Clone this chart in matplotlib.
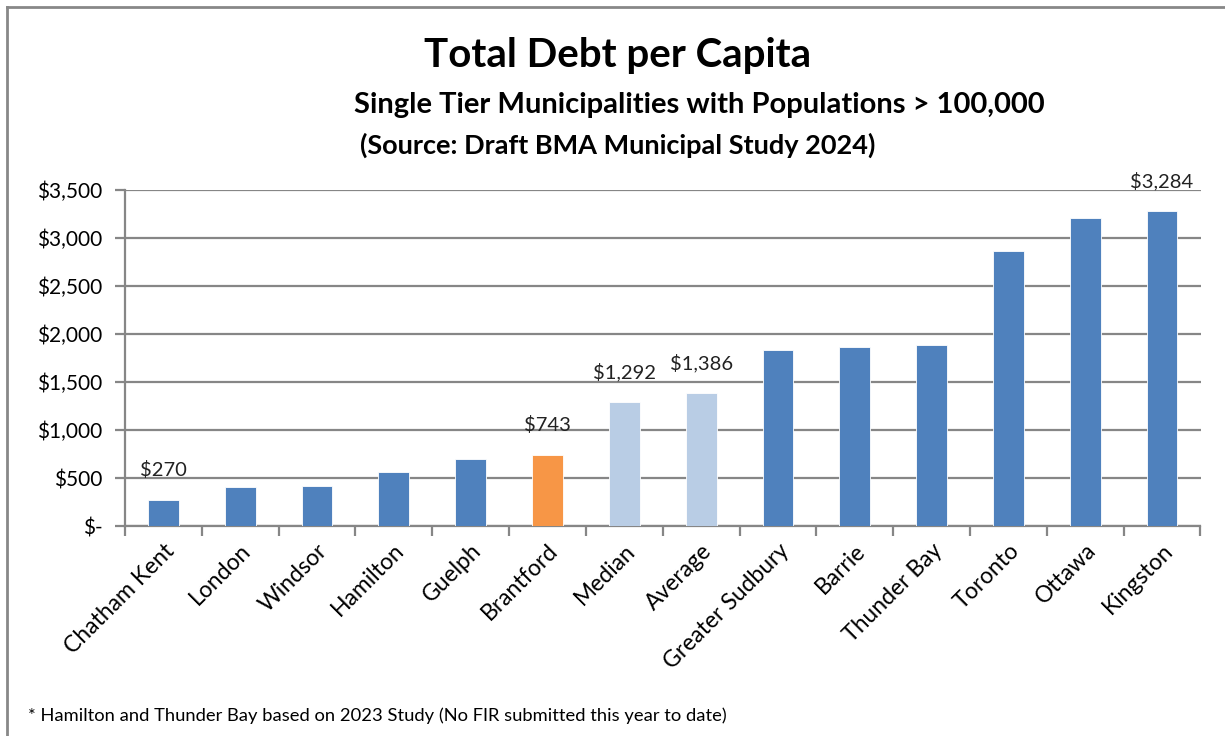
import numpy as np
import matplotlib.pyplot as plt
from matplotlib.lines import Line2D
from matplotlib.ticker import FuncFormatter

plt.rcParams['font.family'] = ['Lato', 'DejaVu Sans']

# Debt per capita by municipality, sorted low to high
municipalities = ['Chatham Kent', 'London', 'Windsor', 'Hamilton', 'Guelph',
                  'Brantford', 'Median', 'Average', 'Greater Sudbury', 'Barrie',
                  'Thunder Bay', 'Toronto', 'Ottawa', 'Kingston']
debt_per_capita = [270, 407, 421, 567, 703, 743, 1292, 1386, 1832, 1860,
                   1884, 2868, 3212, 3284]
labelled = ['Chatham Kent', 'Brantford', 'Median', 'Average', 'Kingston']

BLUE = '#4F81BD'
ORANGE = '#F79646'
LIGHT_BLUE = '#B9CDE5'
GRID = '#868686'


def bar_colour(name):
    if name == 'Brantford':
        return ORANGE
    if name in ('Median', 'Average'):
        return LIGHT_BLUE
    return BLUE


def money(v, pos=None):
    return '$-' if v == 0 else f'${v:,.0f}'


fig = plt.figure(figsize=(12.25, 7.36), dpi=100)
ax = fig.add_axes([0.102, 0.2853, 0.878, 0.4565])

x = np.arange(len(municipalities))
colours = [bar_colour(m) for m in municipalities]
bars = ax.bar(x, debt_per_capita, width=0.4, color=colours,
              edgecolor='white', linewidth=0.6, zorder=3)

for rect, name, val in zip(bars, municipalities, debt_per_capita):
    if name in labelled:
        ax.annotate(money(val), (rect.get_x() + rect.get_width() / 2, val),
                    xytext=(0, 15), textcoords='offset points',
                    ha='center', va='bottom', fontsize=14.5, color='#222222')

# axes
ax.set_xlim(-0.5, len(municipalities) - 0.5)
ax.set_ylim(0, 3500)
ax.set_yticks(np.arange(0, 3501, 500))
ax.yaxis.set_major_formatter(FuncFormatter(money))
ax.grid(axis='y', color=GRID, linewidth=1.6, zorder=0)
ax.set_axisbelow(True)

ax.set_xticks(x)
ax.set_xticklabels(municipalities, rotation=45, ha='right',
                   rotation_mode='anchor', fontsize=16.5)
ax.set_xticks(np.arange(-0.5, len(municipalities)), minor=True)
ax.tick_params(axis='x', which='major', length=0, pad=10)
ax.tick_params(axis='x', which='minor', length=7, width=1.6, color=GRID)
ax.tick_params(axis='y', length=7, width=1.6, color=GRID, labelsize=15, pad=9)

for side in ('top', 'right'):
    ax.spines[side].set_visible(False)
for side in ('left', 'bottom'):
    ax.spines[side].set_color(GRID)
    ax.spines[side].set_linewidth(1.6)

# titles
fig.text(0.504, 0.925, 'Total Debt per Capita', ha='center', va='center',
         fontsize=29, fontweight='bold')
fig.text(0.571, 0.857, 'Single Tier Municipalities with Populations > 100,000',
         ha='center', va='center', fontsize=21, fontweight='bold')
fig.text(0.504, 0.803, '(Source: Draft BMA Municipal Study 2024)',
         ha='center', va='center', fontsize=19.5, fontweight='bold')

fig.text(0.023, 0.027, '* Hamilton and Thunder Bay based on 2023 Study '
         '(No FIR submitted this year to date)', ha='left', va='center',
         fontsize=13.2)

# chart border (clipped at right and bottom)
fig.add_artist(Line2D([7 / 1225, 7 / 1225], [0, 1 - 7 / 736],
                      transform=fig.transFigure, color='#888888', linewidth=2))
fig.add_artist(Line2D([7 / 1225, 1], [1 - 7 / 736, 1 - 7 / 736],
                      transform=fig.transFigure, color='#888888', linewidth=2))

fig.savefig('out.png', dpi=100, facecolor='white')
